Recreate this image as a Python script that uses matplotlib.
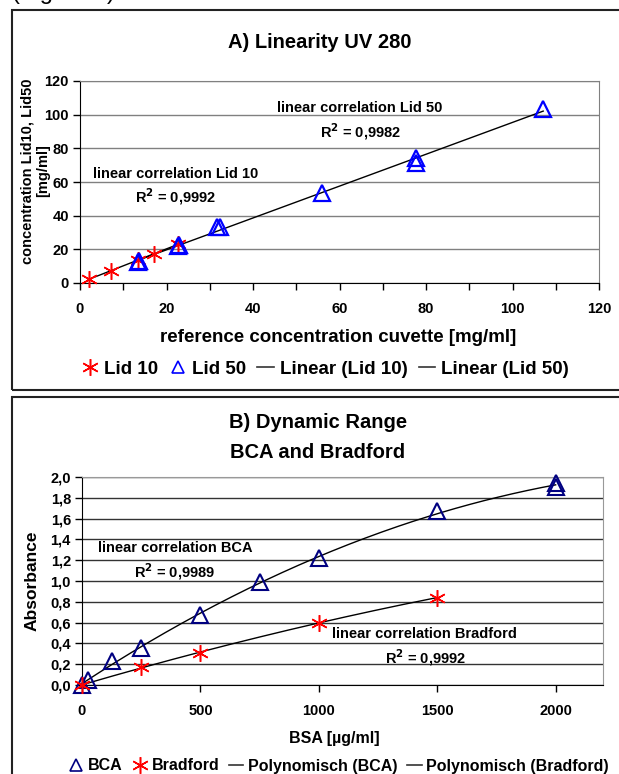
import numpy as np
import matplotlib
matplotlib.use('Agg')
import matplotlib.pyplot as plt
from matplotlib import font_manager as fm
from matplotlib.ticker import MultipleLocator, FuncFormatter
from matplotlib.lines import Line2D
from matplotlib.patches import Rectangle

# ---------------- data ----------------
lid10_x = [2.1, 7.1, 13.3, 17.2, 22.6]
lid10_y = [2.4, 7.1, 13.5, 17.4, 23.0]
lid50_x = [13.3, 13.6, 22.6, 22.9, 31.6, 32.3, 56.0, 77.6, 77.6, 107.1]
lid50_y = [12.3, 13.0, 21.7, 22.5, 33.0, 33.0, 53.5, 71.5, 74.0, 103.5]

bca_x = [0, 25, 125, 250, 500, 750, 1000, 1500, 2000, 2000]
bca_y = [0.0, 0.05, 0.23, 0.36, 0.67, 0.99, 1.22, 1.67, 1.94, 1.90]
brad_x = [0, 250, 500, 1000, 1500]
brad_y = [0.0, 0.17, 0.31, 0.60, 0.84]

legend_a = ['Lid 10', 'Lid 50', 'Linear (Lid 10)', 'Linear (Lid 50)']
legend_b = ['BCA', 'Bradford', 'Polynomisch (BCA)', 'Polynomisch (Bradford)']

# ---------------- fonts ----------------
avail = {f.name for f in fm.fontManager.ttflist}
FONT = 'DejaVu Sans'
for cand in ['Liberation Sans', 'Arimo', 'DejaVu Sans']:
    if cand in avail:
        FONT = cand
        break
plt.rcParams['font.family'] = [FONT, 'DejaVu Sans']
plt.rcParams['font.weight'] = 'bold'

W, H = 619, 774
fig = plt.figure(figsize=(W / 100, H / 100), dpi=100)


def fx(px):
    return px / W


def fy(py):
    return 1 - py / H


# partial caption cut at top
fig.text(fx(12), fy(-1.5), '(Figure 2)', fontsize=17, fontweight='normal',
         va='baseline', ha='left')

# panel boxes
fig.patches.append(Rectangle((fx(12), fy(390)), 1.2, (390 - 10) / H,
                             transform=fig.transFigure, fill=False,
                             ec='#222222', lw=1.5))
fig.patches.append(Rectangle((fx(12), fy(800)), 1.2, (800 - 397) / H,
                             transform=fig.transFigure, fill=False,
                             ec='#222222', lw=1.5))

ast = (6, 2, 0)

# ---------------- panel A ----------------
axA = fig.add_axes([fx(80), fy(283), fx(599 - 80), (283 - 81) / H])
axA.set_xlim(0, 120)
axA.set_ylim(0, 120)
axA.xaxis.set_major_locator(MultipleLocator(20))
axA.xaxis.set_minor_locator(MultipleLocator(10))
axA.yaxis.set_major_locator(MultipleLocator(20))
axA.grid(axis='y', color='#808080', lw=1)
axA.set_axisbelow(True)
for s in ['top', 'right']:
    axA.spines[s].set_color('#808080')
for s in ['left', 'bottom']:
    axA.spines[s].set_color('black')
axA.tick_params(axis='both', which='both', direction='out', length=5, width=1)
axA.tick_params(axis='x', labelsize=10.5, pad=9)
axA.tick_params(axis='y', labelsize=10.5, pad=3)

c10 = np.polyfit(lid10_x, lid10_y, 1)
c50 = np.polyfit(lid50_x, lid50_y, 1)
xx10 = np.linspace(min(lid10_x), max(lid10_x), 50)
xx50 = np.linspace(min(lid50_x), max(lid50_x), 50)
axA.plot(xx10, np.polyval(c10, xx10), color='black', lw=1, zorder=2)
axA.plot(xx50, np.polyval(c50, xx50), color='black', lw=1, zorder=2)
axA.plot(lid10_x, lid10_y, ls='None', marker=ast, ms=12, mew=1.1,
         color='#FF0000', clip_on=False, zorder=3)
axA.plot(lid50_x, lid50_y, ls='None', marker='^', ms=11, mew=1.6,
         mfc='none', mec='#0000FF', clip_on=False, zorder=4)

axA.text(64.6, 104, 'linear correlation Lid 50', ha='center', va='center', fontsize=10.5)
axA.text(64.8, 90, 'R$^2$ = 0,9982', ha='center', va='center', fontsize=10.5)
axA.text(22, 65, 'linear correlation Lid 10', ha='center', va='center', fontsize=10.5)
axA.text(22, 51.5, 'R$^2$ = 0,9992', ha='center', va='center', fontsize=10.5)

fig.text(fx(320), fy(42), 'A) Linearity UV 280', ha='center', va='center', fontsize=14.5)
fig.text(fx(338), fy(337), 'reference concentration cuvette [mg/ml]',
         ha='center', va='center', fontsize=13.5)
fig.text(fx(27), fy(171), 'concentration Lid10, Lid50', rotation=90,
         ha='center', va='center', fontsize=10.5)
fig.text(fx(43), fy(171), '[mg/ml]', rotation=90,
         ha='center', va='center', fontsize=10.5)

hA = [Line2D([], [], ls='None', marker=ast, ms=12, mew=1.1, color='#FF0000'),
      Line2D([], [], ls='None', marker='^', ms=9, mew=1.2, mfc='none', mec='#0000FF'),
      Line2D([], [], color='#333333', lw=1.2),
      Line2D([], [], color='#333333', lw=1.2)]
fig.legend(hA, legend_a, loc='center', bbox_to_anchor=(fx(325), fy(369)),
           ncol=4, frameon=False, fontsize=13.5, handlelength=0.9,
           handletextpad=0.3, columnspacing=0.6, borderaxespad=0)

# ---------------- panel B ----------------
axB = fig.add_axes([fx(82), fy(685), fx(603 - 82), (685 - 477) / H])
axB.set_xlim(0, 2200)
axB.set_ylim(0, 2.0)
axB.xaxis.set_major_locator(MultipleLocator(500))
axB.yaxis.set_major_locator(MultipleLocator(0.2))
axB.yaxis.set_major_formatter(FuncFormatter(lambda v, p: f'{v:.1f}'.replace('.', ',')))
axB.grid(axis='y', color='#333333', lw=1)
axB.set_axisbelow(True)
for s in ['top', 'right']:
    axB.spines[s].set_color('#999999')
for s in ['left', 'bottom']:
    axB.spines[s].set_color('black')
axB.tick_params(axis='both', direction='out', length=5, width=1)
axB.tick_params(axis='x', labelsize=10.5, pad=9)
axB.tick_params(axis='y', labelsize=10.5, pad=3)

cb = np.polyfit(bca_x, bca_y, 2)
cr = np.polyfit(brad_x, brad_y, 2)
xb = np.linspace(min(bca_x), max(bca_x), 200)
xr = np.linspace(min(brad_x), max(brad_x), 200)
axB.plot(xb, np.polyval(cb, xb), color='black', lw=1, zorder=2)
axB.plot(xr, np.polyval(cr, xr), color='black', lw=1, zorder=2)
axB.plot(bca_x, bca_y, ls='None', marker='^', ms=11, mew=1.5,
         mfc='none', mec='#000080', clip_on=False, zorder=3)
axB.plot(brad_x, brad_y, ls='None', marker=ast, ms=12, mew=1.1,
         color='#FF0000', clip_on=False, zorder=4)

axB.text(392, 1.316, 'linear correlation BCA', ha='center', va='center', fontsize=10.5)
axB.text(392, 1.09, 'R$^2$ = 0,9989', ha='center', va='center', fontsize=10.5)
axB.text(1446, 0.486, 'linear correlation Bradford', ha='center', va='center', fontsize=10.5)
axB.text(1450, 0.263, 'R$^2$ = 0,9992', ha='center', va='center', fontsize=10.5)

fig.text(fx(318), fy(437.5), 'B) Dynamic Range\nBCA and Bradford', ha='center',
         va='center', fontsize=14.5, linespacing=1.7)
fig.text(fx(334), fy(738), 'BSA [µg/ml]', ha='center', va='center', fontsize=11.5)
fig.text(fx(32), fy(581), 'Absorbance', rotation=90, ha='center', va='center', fontsize=12.5)

hB = [Line2D([], [], ls='None', marker='^', ms=9, mew=1.2, mfc='none', mec='#000080'),
      Line2D([], [], ls='None', marker=ast, ms=12, mew=1.1, color='#FF0000'),
      Line2D([], [], color='#333333', lw=1.2),
      Line2D([], [], color='#333333', lw=1.2)]
fig.legend(hB, legend_b, loc='center', bbox_to_anchor=(fx(339), fy(766)),
           ncol=4, frameon=False, fontsize=11.5, handlelength=0.9,
           handletextpad=0.3, columnspacing=0.6, borderaxespad=0)

fig.savefig('out.png', dpi=100)
